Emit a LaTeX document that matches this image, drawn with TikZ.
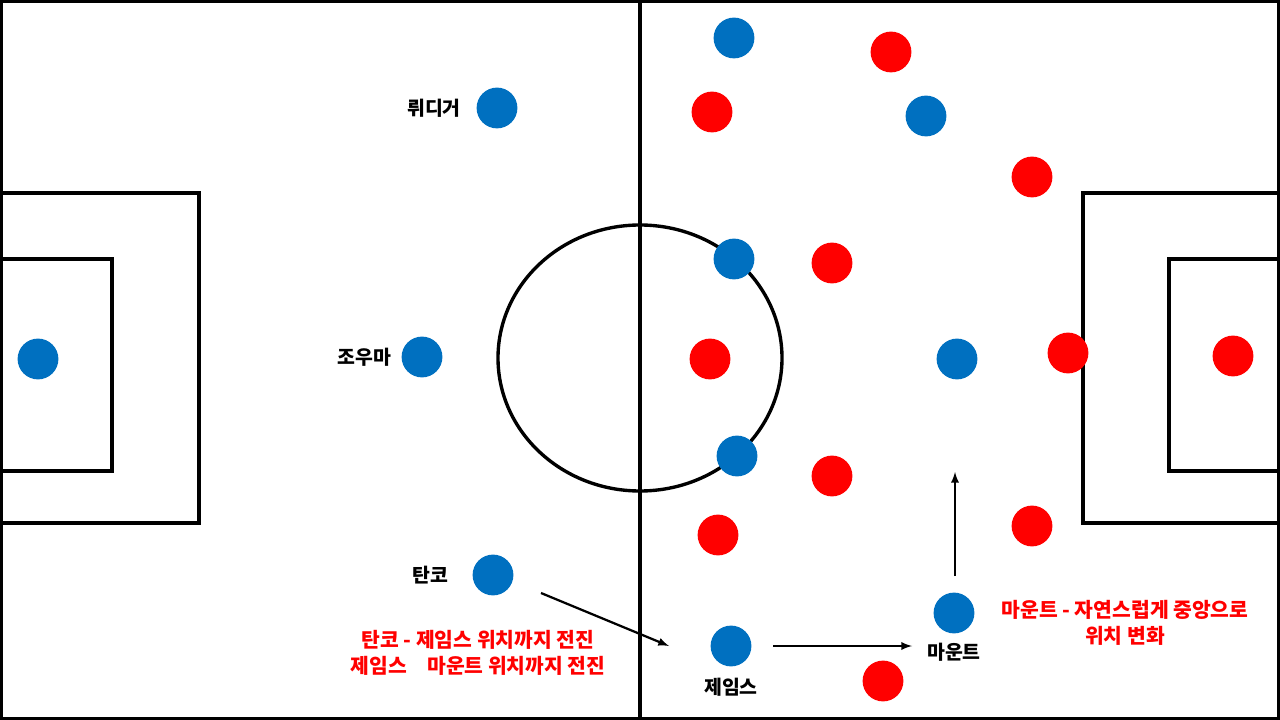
\documentclass[tikz,border=0pt]{standalone}
\usepackage{fontspec}
\newfontfamily\kr{Noto Sans CJK KR}
\usepackage{tikz}
\usetikzlibrary{positioning}
\tikzset{>=latex}
\usepackage{xcolor}
\definecolor{blueteam}{HTML}{0070C0}
\definecolor{redteam}{HTML}{FF0000}
\tikzstyle{bdot}=[circle,fill=blueteam,inner sep=0,minimum size=1.02cm]
\tikzstyle{rdot}=[circle,fill=redteam,inner sep=0,minimum size=1.02cm]
\tikzstyle{pitch}=[line width=2.4pt]
\tikzstyle{mv}=[->,line width=1.6pt]
\tikzstyle{plabel}=[font=\kr\bfseries\fontsize{13.8}{16}\selectfont,inner sep=0]
\tikzstyle{remark}=[font=\kr\bfseries\fontsize{14.5}{18}\selectfont,text=redteam,align=center]

\begin{document}
\begin{tikzpicture}[x=0.025cm,y=-0.025cm]
  \useasboundingbox (0,0) rectangle (1280,720);
  \def\cx{640}
  \def\cy{358}

  % pitch
  \draw[pitch] (1.5,1.5) rectangle (1278.5,718.5);
  \draw[pitch] (\cx,0) -- (\cx,720);
  \draw[pitch] (\cx,\cy) ellipse[x radius=142, y radius=133];
  \draw[pitch] (0,193) -- (199,193) -- (199,523) -- (0,523);
  \draw[pitch] (0,259) -- (112,259) -- (112,471) -- (0,471);
  \draw[pitch] (1280,193) -- (1083,193) -- (1083,523) -- (1280,523);
  \draw[pitch] (1280,259) -- (1169,259) -- (1169,471) -- (1280,471);

  % blue
  \node[bdot] (keeper) at (38,359) {};
  \node[bdot] (ruediger) at (497,108) {};
  \node[bdot] (zouma) at (422,357) {};
  \node[bdot] (tanko) at (493,575) {};
  \node[bdot] (b1) at (734,38) {};
  \node[bdot] (b2) at (926,116) {};
  \node[bdot] (b3) at (734,259) {};
  \node[bdot] (b4) at (957,359) {};
  \node[bdot] (b5) at (737,456) {};
  \node[bdot] (james) at (731,646) {};
  \node[bdot] (mount) at (954,613) {};

  % red
  \node[rdot] (r1) at (891,52) {};
  \node[rdot] (r2) at (712,112) {};
  \node[rdot] (r3) at (1032,177) {};
  \node[rdot] (r4) at (832,263) {};
  \node[rdot] (r5) at (710,359) {};
  \node[rdot] (r6) at (1068,353) {};
  \node[rdot] (r7) at (1233,356) {};
  \node[rdot] (r8) at (832,476) {};
  \node[rdot] (r9) at (718,535) {};
  \node[rdot] (r10) at (1032,526) {};
  \node[rdot] (r11) at (883,681) {};

  % names
  \node[plabel,left=0.38cm of ruediger] (lruediger) {뤼디거};
  \node[plabel,left=0.25cm of zouma] (lzouma) {조우마};
  \node[plabel,left=0.6cm of tanko] (ltanko) {탄코};
  \node[plabel,below=0.28cm of james] (ljames) {제임스};
  \node[plabel,below=0.22cm of mount] (lmount) {마운트};

  % runs
  \coordinate (t0) at (541,593);
  \coordinate (t1) at (669,646);
  \coordinate (j0) at (773,646);
  \coordinate (j1) at (912,646);
  \coordinate (m0) at (955,576);
  \coordinate (m1) at (955,472);
  \draw[mv] (t0) -- (t1);
  \draw[mv] (j0) -- (j1);
  \draw[mv] (m0) -- (m1);

  \node[remark] (note1) at (478,653) {탄코 - 제임스 위치까지 전진\\제임스\quad 마운트 위치까지 전진};
  \node[remark] (note2) at (1125,623) {마운트 - 자연스럽게 중앙으로\\위치 변화};
\end{tikzpicture}
\end{document}
